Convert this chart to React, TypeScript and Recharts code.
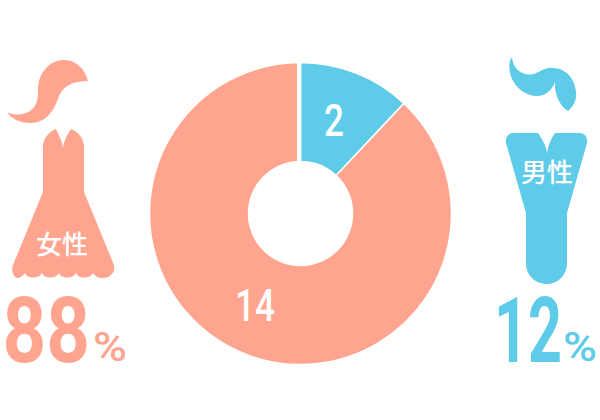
import { PieChart, Pie, Cell } from 'recharts';

const genders = ['男性', '女性'];
const counts = [2, 14];
const percents = [12, 88];
const MALE = '#5ecbe9';
const FEMALE = '#ffa48e';
const sliceColors = [MALE, FEMALE];

const FONT = 'Roboto, "Noto Sans", sans-serif';
const CJK = '"Noto Sans CJK JP", sans-serif';

const RADIAN = Math.PI / 180;

function renderCount({ cx, cy, midAngle, index }: any) {
  const r = 99;
  const x = cx + r * Math.cos(-midAngle * RADIAN) + (index === 1 ? -9 : -3);
  const y = cy + r * Math.sin(-midAngle * RADIAN);
  return (
    <text
      x={x}
      y={y}
      dy={15}
      fill="#fff"
      fontFamily={FONT}
      fontSize={45}
      fontWeight={500}
      textAnchor="middle"
      transform={`translate(${x} 0) scale(0.78 1) translate(${-x} 0)`}
    >
      {counts[index]}
    </text>
  );
}

function Figures() {
  return (
    <svg width={600} height={420} style={{ position: 'absolute', left: 0, top: 0 }}>
      {/* white seam at the top of the ring sits left of the centre */}
      <rect x={297} y={60} width={3} height={103} fill="#fff" />

      {/* woman */}
      <path
        fill={FEMALE}
        d="M7 112 C15 116 24 115 30 111 C38 105 38 98 38 88 C39 70 52 60 64 60 C76 60 85 69 88 81 C76 81 64 84 59 96 C55 108 48 123 30 123 C20 123 12 119 7 112 Z"
      />
      <path
        fill={FEMALE}
        d="M56 129 C58 134 62 140 63 148 C64 140 68 134 71 129 C79 132 84 139 84 147 L84 192 L114 265 C116 272 110 278 103 278 C98 278 95 276 93 273 C90 279 78 279 76 273 C73 279 61 279 59 273 C56 279 44 279 42 273 C39 279 27 279 25 273 C22 277 19 278 17 278 C13 276 11 270 13 265 L43 192 L43 147 C43 139 48 132 56 129 Z"
      />
      <text x={62} y={254} fill="#fff" fontFamily={CJK} fontSize={26} fontWeight={500} textAnchor="middle">
        {genders[1]}
      </text>
      <text x={46.25} y={362} fill={FEMALE} fontFamily={FONT} fontSize={90} fontWeight={700} textAnchor="middle" textLength={87.5} lengthAdjust="spacingAndGlyphs">
        {percents[1]}
      </text>
      <text x={110} y={361} fill={FEMALE} fontFamily={FONT} fontSize={40} fontWeight={500} textAnchor="middle" textLength={34} lengthAdjust="spacingAndGlyphs">
        %
      </text>

      {/* man */}
      <path
        fill={MALE}
        d="M512 57 C508 62 509 72 512 79 C516 88 526 96 537 96 C546 96 552 90 555 82 C554 92 559 106 568 111 C574 106 577 99 576 92 C575 79 566 68 553 68 C545 67 540 72 534 74 C524 76 513 71 512 57 Z"
      />
      <path
        fill={MALE}
        d="M513 133 L538 133 C542 139 546 145 547 153 C548 145 551 139 555 133 L580 133 C585 133 588 138 587 143 L567 213 L567 263 C567 275 558 284 547 284 C535 284 526 275 526 263 L526 213 L506 143 C505 138 508 133 513 133 Z"
      />
      <text x={547} y={182} fill="#fff" fontFamily={CJK} fontSize={26} fontWeight={500} textAnchor="middle">
        {genders[0]}
      </text>
      <text x={528} y={362} fill={MALE} fontFamily={FONT} fontSize={90} fontWeight={700} textAnchor="middle" textLength={68} lengthAdjust="spacingAndGlyphs">
        {percents[0]}
      </text>
      <text x={580} y={361} fill={MALE} fontFamily={FONT} fontSize={40} fontWeight={500} textAnchor="middle" textLength={34} lengthAdjust="spacingAndGlyphs">
        %
      </text>
    </svg>
  );
}

export default function App() {
  const data = genders.map((name, i) => ({ name, value: percents[i] }));
  return (
    <div style={{ position: 'absolute', left: 0, top: 0, width: 600, height: 420, background: '#fff' }}>
      <PieChart width={600} height={420} margin={{ top: 0, right: 0, bottom: 0, left: 0 }} style={{ position: 'absolute', left: 0, top: 0 }}>
        <Pie
          data={data}
          dataKey="value"
          cx={300.5}
          cy={213.5}
          innerRadius={52}
          outerRadius={151}
          startAngle={90}
          endAngle={-270}
          stroke="#fff"
          strokeWidth={1.5}
          label={renderCount}
          labelLine={false}
          isAnimationActive={false}
        >
          {data.map((d, i) => (
            <Cell key={d.name} fill={sliceColors[i]} />
          ))}
        </Pie>
      </PieChart>
      <Figures />
    </div>
  );
}
